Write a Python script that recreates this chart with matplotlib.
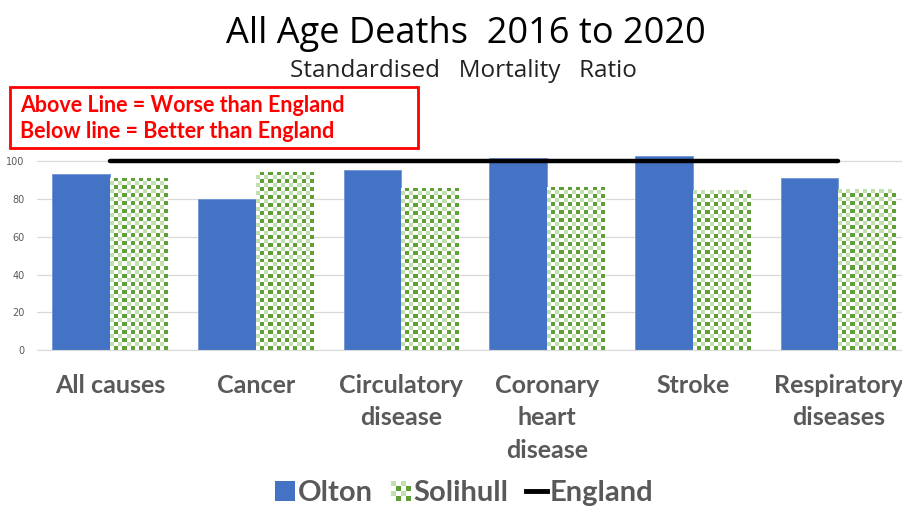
import numpy as np
import matplotlib
matplotlib.use("Agg")
import matplotlib.pyplot as plt
from matplotlib.patches import Rectangle, Patch
from matplotlib.lines import Line2D
from matplotlib.legend_handler import HandlerBase

categories = ["All causes", "Cancer", "Circulatory\ndisease", "Coronary\nheart\ndisease",
              "Stroke", "Respiratory\ndiseases"]
olton = [93.3, 80.0, 95.6, 101.9, 102.9, 91.4]
solihull = [91.2, 94.6, 86.0, 86.4, 84.6, 85.1]
england = [100, 100, 100, 100, 100, 100]
series_names = ["Olton", "Solihull", "England"]

BLUE = "#4472C4"
DARK_GREEN = "#5f9f35"
LIGHT_GREEN = "#c2dfb0"
GREY = "#595959"


def checker(ncols, nrows):
    """checkerboard rgb array: white / dark / light green squares"""
    img = np.ones((nrows, ncols, 3))
    dark = np.array(matplotlib.colors.to_rgb(DARK_GREEN))
    light = np.array(matplotlib.colors.to_rgb(LIGHT_GREEN))
    for r in range(nrows):
        for c in range(ncols):
            if (r + c) % 2 == 1:
                img[r, c] = dark if r % 2 == 0 else light
    return img


class CheckerHandler(HandlerBase):
    def create_artists(self, legend, orig_handle, xdescent, ydescent,
                       width, height, fontsize, trans):
        n = 4
        cw = width / n
        ch = height / n
        arts = []
        for r in range(n):
            for c in range(n):
                if (r + c) % 2 == 1:
                    col = DARK_GREEN if r % 2 == 0 else LIGHT_GREEN
                    arts.append(Rectangle((-xdescent + c * cw, -ydescent + r * ch), cw, ch,
                                          facecolor=col, edgecolor="none", transform=trans))
        return arts


fig = plt.figure(figsize=(9.03, 5.07), dpi=100)
ax = fig.add_axes([37.2 / 903, 157 / 507, 874 / 903, 200 / 507])

x = np.arange(len(categories))
w = 0.397
ax.bar(x - w / 2, olton, w, color=BLUE, edgecolor="#6f93d6", linewidth=0.6, zorder=2)
sol_bars = ax.bar(x + w / 2, solihull, w, color="none", edgecolor="none", zorder=2)

ax.set_xlim(-0.5, len(categories) - 0.5)
ax.set_ylim(0, 106)
ax.set_yticks(np.arange(0, 101, 20))
ax.grid(axis="y", color="#d9d9d9", linewidth=0.9, zorder=0)
ax.set_axisbelow(True)
for s in ["top", "right", "left"]:
    ax.spines[s].set_visible(False)
ax.spines["bottom"].set_color("#d9d9d9")
ax.tick_params(axis="y", length=0, labelsize=7, labelcolor=GREY, pad=9)
ax.tick_params(axis="x", length=0, pad=17)
ax.set_xticks(x)
ax.set_xticklabels(categories, fontsize=18, fontweight="bold", color=GREY,
                   family="Lato", linespacing=1.52)

# fill the Solihull bars with a checkerboard clipped to each bar
fig.canvas.draw()
for bar in sol_bars:
    x0, y0 = bar.get_x(), bar.get_y()
    x1, y1 = x0 + bar.get_width(), y0 + bar.get_height()
    p0 = ax.transData.transform((x0, y0))
    p1 = ax.transData.transform((x1, y1))
    cell = 4.0
    ncols = max(1, int(round((p1[0] - p0[0]) / cell)))
    nrows = max(1, int(round((p1[1] - p0[1]) / cell)))
    im = ax.imshow(checker(ncols, nrows), extent=(x0, x1, y0, y1), origin="lower",
                   interpolation="nearest", aspect="auto", zorder=2)
    im.set_clip_path(bar)
ax.set_xlim(-0.5, len(categories) - 0.5)
ax.set_ylim(0, 106)

ax.plot(x, england, color="black", linewidth=3.2, solid_capstyle="round", zorder=3)

fig.text(466 / 903, 0.933, "All Age Deaths  2016 to 2020", ha="center", va="center",
         fontsize=26, family="Open Sans", color="black")
fig.text(463 / 903, 0.860, "Standardised   Mortality   Ratio", ha="center", va="center",
         fontsize=17.5, family="Open Sans", color="#222222")

# note box
fig.patches.append(Rectangle((10 / 903, 1 - 148 / 507), 408 / 903, 61 / 507,
                             transform=fig.transFigure, facecolor="white",
                             edgecolor="#ff0000", linewidth=2, zorder=5))
fig.text(20 / 903, 1 - 105 / 507, "Above Line = Worse than England", color="#ff0000",
         fontsize=15.5, fontweight="bold", family="Lato", va="center", zorder=6)
fig.text(20 / 903, 1 - 132 / 507, "Below line = Better than England", color="#ff0000",
         fontsize=15.5, fontweight="bold", family="Lato", va="center", zorder=6)

handles = [Patch(facecolor=BLUE, edgecolor="none"),
           Patch(facecolor="none"),
           Line2D([0], [0], color="black", linewidth=3.5)]
leg = fig.legend(handles, series_names, loc="center", bbox_to_anchor=(464 / 903, 14 / 507),
                 ncol=3, frameon=False, handler_map={handles[1]: CheckerHandler()},
                 prop={"family": "Lato", "weight": "bold", "size": 21},
                 handlelength=0.7, handleheight=0.7, handletextpad=0.1, columnspacing=0.6)
for t in leg.get_texts():
    t.set_color(GREY)

fig.savefig("out.png", dpi=100)
